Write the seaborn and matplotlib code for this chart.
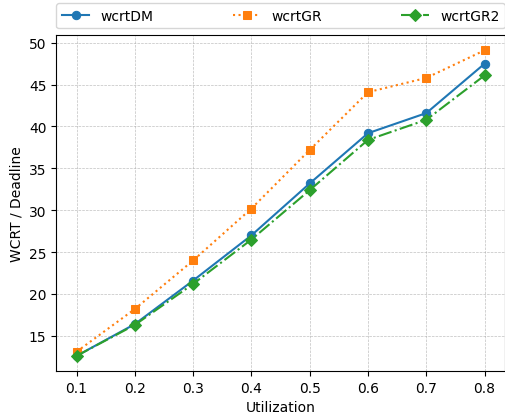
import numpy as np
import pandas as pd
import matplotlib
matplotlib.use('Agg')
import matplotlib.pyplot as plt
import seaborn as sns

# Data
utilization = [0.1, 0.2, 0.3, 0.4, 0.5, 0.6, 0.7, 0.8]
wcrt_dm = [12.6, 16.4, 21.6, 27.0, 33.2, 39.2, 41.6, 47.5]
wcrt_gr = [13.1, 18.2, 24.0, 30.2, 37.2, 44.1, 45.8, 49.1]
wcrt_gr2 = [12.6, 16.3, 21.2, 26.5, 32.4, 38.4, 40.8, 46.1]

series = [
    ('wcrtDM', wcrt_dm, 'o', '-', '#1f77b4'),
    ('wcrtGR', wcrt_gr, 's', ':', '#ff7f0e'),
    ('wcrtGR2', wcrt_gr2, 'D', '-.', '#2ca02c'),
]

fig = plt.figure(figsize=(5.06, 4.14), dpi=100)
ax = fig.add_axes([0.111, 0.101, 0.887, 0.812])

for name, vals, marker, ls, color in series:
    df = pd.DataFrame({'Utilization': utilization, 'value': vals})
    sns.lineplot(data=df, x='Utilization', y='value', ax=ax, label=name,
                 marker=marker, linestyle=ls, color=color,
                 markersize=6, markeredgecolor=color, linewidth=1.5)

ax.set_xlabel('Utilization')
ax.set_ylabel('WCRT / Deadline')
ax.set_xticks(utilization)
ax.grid(True, linestyle='--', linewidth=0.5, alpha=0.8)
ax.legend(bbox_to_anchor=(0, 1.02, 1, 0.1), loc='lower left', ncol=3,
          mode='expand', borderaxespad=0)

fig.savefig('out.png', dpi=100)
